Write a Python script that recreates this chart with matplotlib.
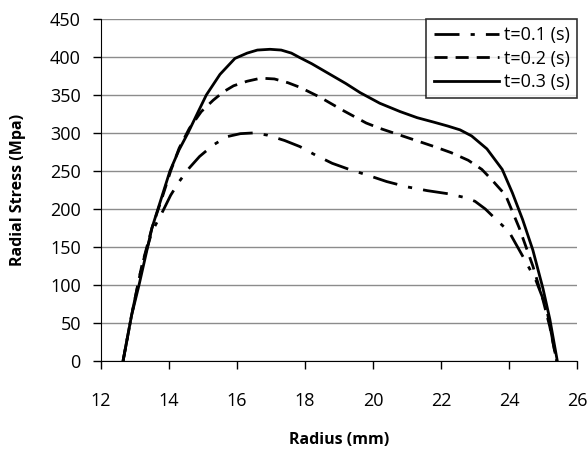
import matplotlib.pyplot as plt

plt.rcParams['font.family'] = ['Open Sans', 'DejaVu Sans']

# t = 0.1 s
r1 = [12.65, 12.9, 13.2, 13.5, 13.83, 14.05, 14.3, 14.6, 14.9, 15.3, 15.7, 16.1,
      16.5, 16.9, 17.4, 17.85, 18.3, 18.8, 19.3, 19.8, 20.4, 21.0, 21.6, 22.2,
      22.7, 23.0, 23.3, 23.6, 24.0, 24.5, 24.8, 25.1, 25.4]
s1 = [0, 60, 125, 170, 198, 218, 236, 254, 269, 284, 295, 299,
      300, 297, 290, 282, 271, 260, 252, 245, 236, 229, 224, 220,
      215, 210, 200, 187, 170, 130, 105, 70, 0]
# t = 0.2 s
r2 = [12.65, 12.9, 13.2, 13.5, 13.8, 14.05, 14.3, 14.6, 14.95, 15.3, 15.6, 15.9,
      16.3, 16.7, 17.1, 17.5, 17.85, 18.44, 19.1, 19.8, 20.2, 20.6, 21.2, 21.8,
      22.3, 22.8, 23.2, 23.5, 23.9, 24.3, 24.7, 25.0, 25.2, 25.4]
s2 = [0, 60, 125, 175, 215, 250, 280, 306, 328, 343, 354, 362,
      368, 372, 371, 366, 360, 347, 330, 313, 306, 300, 291, 282,
      274, 264, 252, 238, 218, 175, 125, 80, 45, 0]
# t = 0.3 s
r3 = [12.65, 12.9, 13.12, 13.5, 14.03, 14.3, 14.56, 14.85, 15.1, 15.5, 15.94,
      16.3, 16.6, 16.97, 17.3, 17.6, 17.85, 18.2, 18.7, 19.2, 19.62, 20.2,
      20.8, 21.3, 21.8, 22.2, 22.56, 22.9, 23.35, 23.8, 24.1, 24.4, 24.7,
      25.0, 25.2, 25.42]
s3 = [0, 60, 100, 175, 250, 278, 300, 327, 350, 377, 398,
      405, 409, 410, 409, 405, 399, 391, 378, 365, 353, 339,
      328, 320, 314, 309, 304, 296, 279, 252, 221, 186, 146,
      95, 55, 0]
labels = ['t=0.1 (s)', 't=0.2 (s)', 't=0.3 (s)']

fig = plt.figure(figsize=(5.87, 4.5), dpi=100)
ax = fig.add_axes([0.172, 0.198, 0.811, 0.76])

ax.plot(r1, s1, color='black', lw=2, dashes=(9, 4, 1.5, 4), label=labels[0])
ax.plot(r2, s2, color='black', lw=2, dashes=(4.7, 2.9), label=labels[1])
ax.plot(r3, s3, color='black', lw=2, label=labels[2])

ax.set_xlim(12, 26)
ax.set_ylim(0, 450)
ax.set_xticks(range(12, 27, 2))
ax.set_yticks(range(0, 451, 50))
ax.yaxis.grid(True, color='#8c8c8c', lw=1)
ax.set_axisbelow(True)
for s in ['top', 'right']:
    ax.spines[s].set_visible(False)
ax.tick_params(labelsize=13, length=5.5, width=1)
ax.tick_params(axis='x', pad=17)
ax.tick_params(axis='y', pad=9)

ax.set_xlabel('Radius (mm)', fontsize=11.5, fontweight='bold')
ax.set_ylabel('Radial Stress (Mpa)', fontsize=11.5, fontweight='bold')
ax.xaxis.set_label_coords(0.5, -0.231)
ax.yaxis.set_label_coords(-0.175, 0.5)
ax.xaxis.label.set_va('center')
ax.yaxis.label.set_va('center')

leg = ax.legend(loc='upper right', fontsize=13, frameon=True, fancybox=False,
                edgecolor='black', handlelength=3.6, handletextpad=0.3,
                borderaxespad=0, labelspacing=0.3, borderpad=0.4)
leg.get_frame().set_linewidth(1.2)

fig.savefig('out.png', dpi=100)
